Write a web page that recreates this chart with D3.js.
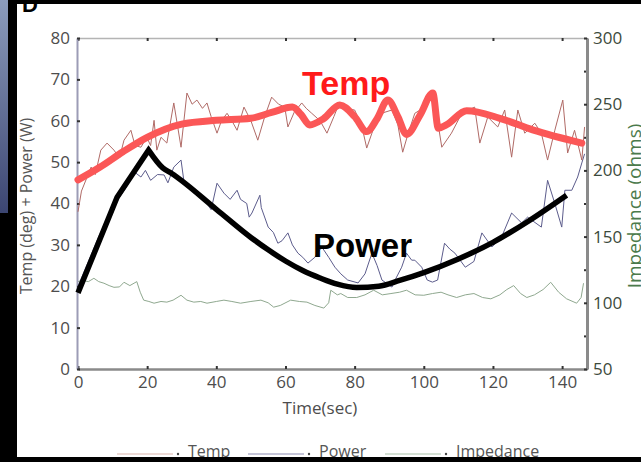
<!DOCTYPE html>
<html>
<head>
<meta charset="utf-8">
<script src="https://cdn.jsdelivr.net/npm/d3@7"></script>
<style>
  html, body { margin: 0; padding: 0; background: #000; }
  svg { display: block; }
  .tick text { font-family: "Open Sans", sans-serif; font-size: 17px; }
</style>
</head>
<body>
<svg id="chart" width="641" height="462"></svg>
<script>
// axis ticks
const timeTicks = [0, 20, 40, 60, 80, 100, 120, 140];
const leftTicks = [0, 10, 20, 30, 40, 50, 60, 70, 80];
const rightTicks = [50, 100, 150, 200, 250, 300];
const rightMinor = [75, 125, 175, 225, 275];

// raw traces [time, value]
const tempRaw = [[0,38],[1,43],[3.8,48.8],[5,47],[6.6,52.9],[8.4,54.6],[10.4,52.9],[12,51],[13.3,55.3],[15.3,57.7],[16.5,54],[18.2,53.6],[19.9,56],[21,54],[22,60.1],[22.8,52.9],[24,56],[25.7,54.6],[27.7,64.3],[29.8,53.6],[31.5,66.7],[33,64],[34.4,65],[36,63],[37.3,64.3],[38.5,61],[40.2,57],[41.5,60],[43.1,61.8],[44.5,60],[46,57.7],[48,63.3],[50,60],[52,55.3],[54,61],[56,65.7],[58,64],[59.8,63.3],[60.7,58.5],[62.5,62],[64.7,64.3],[66,63],[67.6,61.8],[70,60],[72,57],[74,61],[75.1,63.3],[77,63],[80,62.6],[82,59],[83.5,53.4],[85,57],[86.7,60.9],[88.5,62],[90.8,62.6],[92.5,59],[93.9,52.4],[95.5,57],[97.4,61.8],[100.3,63.3],[103.2,66.7],[104,60],[105.2,53.6],[108,57],[111,61.8],[114.7,63.3],[116.2,54.6],[118.5,60.9],[121.4,58.5],[123.4,62.6],[125.4,51.2],[127.2,62.6],[129.2,57],[132.1,59.4],[134,57],[135.8,50.5],[137.9,57.7],[140.2,65],[141.6,52.2],[143.6,57.7],[145.7,50.5],[146.5,58.5]];

const powerRaw = [[0,20],[2,24],[4,28],[6,32],[8,35.5],[10,38.5],[12,41.5],[14,44],[15.3,46],[16.5,47.5],[18.2,46.4],[19.5,48],[21,45.6],[23,47],[24.9,46.9],[26,45],[27.7,48.8],[29.8,50.5],[30.6,45.6],[32,44],[33.5,42.5],[35.5,41.5],[37.3,40],[38.5,38.5],[40.2,44.9],[42.2,42.5],[44,41],[46,43.2],[47,41],[48.8,40],[49.5,36.7],[50.3,37.7],[52.6,42],[53,39],[55,34.3],[56.5,33],[57.8,30.4],[59,31],[60.7,32.9],[62,30],[63.6,28],[65,27],[66.5,25.6],[68.5,27],[70.5,29.5],[72.5,27],[74.3,24.6],[76,23],[78,21.5],[81,20.8],[83,23],[85,28],[86.5,25],[87.9,21.5],[90.8,19.8],[92,22],[93.6,24.6],[95,28],[96.5,26.3],[97.4,26.3],[99.4,24.6],[101,21.5],[102.5,21],[104,21.5],[106,30.4],[107.5,29],[109,28],[112,24.6],[114.5,26],[116.8,32.9],[119.7,29.5],[122.5,31.9],[125.4,37.7],[128.3,35.3],[130,36.7],[134,34.3],[135.8,45.6],[137.9,40],[139.9,34.3],[140.8,43.2],[142.8,43.2],[144.5,46.4],[145.7,49.8],[146.5,52]];

const impedanceRaw = [[0,116],[1,117],[3,116],[4.6,118.5],[6,116],[7.5,114.8],[9,113],[10.4,111.7],[12,112],[13.3,115.5],[15,113],[16.2,114.8],[17,116],[18,108],[19,102],[20.5,101],[22,99.7],[24,101],[25.7,100.5],[27.5,102],[29.8,105.7],[31.5,102],[33.5,100.5],[35.5,101],[37.3,99.7],[40,101],[42.2,102],[44.5,101],[47,99.7],[50,101],[52.9,102],[55,100],[56.6,96.7],[58.5,98],[61.5,102],[64,101],[66.2,100.5],[68.5,98],[71.1,96],[72.5,100],[73.1,109.5],[75,106],[76,107],[78,104],[80.6,104],[83,106],[85.5,109.5],[88,106],[90.5,107],[93,108],[95,109.5],[97.5,106],[100,105.7],[102.5,107],[105,108],[107,106],[109.5,104],[112,106],[114.5,107],[117,104],[119.4,103],[122,106],[124,110],[126,113],[128,107],[129.8,104],[132,106],[134.5,110],[136.7,115.5],[139,108],[141.3,103],[144.2,99.7],[145.5,104],[146.2,114.8]];

// hand-drawn fit lines
const tempFit = [[0,45.7],[6.4,48.8],[13,52.5],[20,56],[30,59.2],[40,60.1],[50,60.6],[56,62],[62,63.3],[64.5,61.5],[67,59],[71,60.5],[75.7,63.8],[80,61],[83.5,57.4],[86.5,60.5],[89.6,65],[92.5,61],[95,56.7],[99,61.5],[102.6,66.7],[104.2,58.2],[106.5,59],[112.4,62.4],[122,60.6],[131.5,57.8],[145.7,54.6]];
const powerRise = [[0,18.4],[11.3,41.5],[20.4,52.9]];
const powerFall = [[20.4,52.9],[24.5,48.6],[27,47.3],[40,38.6],[50,31.8],[55,28.8],[60,26.1],[65,23.8],[70,22],[75,20.5],[80.6,19.7],[87,20],[93,21.4],[100,23.3],[110,26.6],[120,30.6],[130,35.6],[141.3,42]];

const legendItems = ['Temp', 'Power', 'Impedance'];
const legendColors = ['#d9b3ab', '#8c8cb2', '#a9c2a9'];

const svg = d3.select('#chart');

// frame: black surround, blue strip, white page
const grad = svg.append('defs').append('linearGradient')
    .attr('id', 'strip').attr('x1', 0).attr('y1', 0).attr('x2', 0).attr('y2', 1);
grad.append('stop').attr('offset', '0%').attr('stop-color', '#8c9cbc');
grad.append('stop').attr('offset', '100%').attr('stop-color', '#3c4672');
svg.append('rect').attr('width', 641).attr('height', 462).attr('fill', '#000');
svg.append('rect').attr('x', 0).attr('y', 0).attr('width', 8).attr('height', 213).attr('fill', 'url(#strip)');
svg.append('rect').attr('x', 17).attr('y', 4).attr('width', 624).attr('height', 453).attr('fill', '#fff');

svg.append('text').attr('x', 22).attr('y', 12)
    .style('font-family', '"Liberation Sans", Arial, sans-serif')
    .style('font-weight', 'bold').style('font-size', '22px')
    .text('D');

const x = d3.scaleLinear().domain([0, 147.2]).range([78, 587]);
const yL = d3.scaleLinear().domain([0, 80]).range([369, 38]);
const yR = d3.scaleLinear().domain([50, 300]).range([369, 38]);

// axes
const styleAxis = (g, color, width, labelColor) => {
    g.select('.domain').attr('stroke', color).attr('stroke-width', width);
    g.selectAll('.tick line').attr('stroke', '#333').attr('stroke-width', 2);
    g.selectAll('.tick text').attr('fill', labelColor);
};

svg.append('g').attr('transform', 'translate(0,38)')
    .call(d3.axisTop(x).tickValues(timeTicks).tickFormat('').tickSize(-3).tickSizeOuter(0))
    .call((g) => styleAxis(g, '#b4b4b4', 1.5, '#555'));

svg.append('g').attr('transform', 'translate(0,369)')
    .call(d3.axisBottom(x).tickValues(timeTicks).tickSize(-3).tickSizeOuter(0).tickPadding(7))
    .call((g) => styleAxis(g, '#8a8a8a', 2.5, '#4d4d4d'));

svg.append('g').attr('transform', 'translate(77,0)')
    .call(d3.axisLeft(yL).tickValues(leftTicks).tickSize(-3).tickSizeOuter(0).tickPadding(7))
    .call((g) => styleAxis(g, '#9c9cb6', 2, '#4d4d4d'));

svg.append('g').attr('transform', 'translate(587,0)')
    .call(d3.axisRight(yR).tickValues(rightMinor).tickFormat('').tickSize(-3).tickSizeOuter(0))
    .call((g) => g.selectAll('.tick line').attr('stroke', '#333').attr('stroke-width', 2));
svg.append('g').attr('transform', 'translate(587,0)')
    .call(d3.axisRight(yR).tickValues(rightTicks).tickSize(-3).tickSizeOuter(0).tickPadding(6))
    .call((g) => styleAxis(g, '#8a8a8a', 3, '#3c4a3c'));

// axis titles
const label = (sel) => sel.style('font-family', '"Open Sans", sans-serif');
svg.append('text').call(label)
    .attr('transform', 'translate(32,206) rotate(-90)')
    .attr('text-anchor', 'middle').style('font-size', '16px').attr('fill', '#555')
    .text('Temp (deg) + Power (W)');
svg.append('text').call(label)
    .attr('transform', 'translate(641,206) rotate(-90)')
    .attr('text-anchor', 'middle').style('font-size', '19px').attr('fill', '#4b7a4b')
    .text('Impedance (ohms)');
svg.append('text').call(label)
    .attr('x', 320).attr('y', 414).attr('text-anchor', 'middle')
    .style('font-size', '17px').attr('fill', '#4d4d4d')
    .text('Time(sec)');

// traces
const lineL = d3.line().x((d) => x(d[0])).y((d) => yL(d[1]));
const lineR = d3.line().x((d) => x(d[0])).y((d) => yR(d[1]));
const fitLine = d3.line().x((d) => x(d[0])).y((d) => yL(d[1])).curve(d3.curveMonotoneX);

const plot = svg.append('g').attr('fill', 'none');
plot.append('path').attr('d', lineR(impedanceRaw)).attr('stroke', '#8fa88f').attr('stroke-width', 1);
plot.append('path').attr('d', lineL(powerRaw)).attr('stroke', '#5c5c8c').attr('stroke-width', 1);
plot.append('path').attr('d', lineL(tempRaw)).attr('stroke', '#b06a66').attr('stroke-width', 1);
plot.append('path').attr('d', fitLine(tempFit)).attr('stroke', '#fb5757')
    .attr('stroke-width', 7).attr('stroke-linecap', 'round').attr('stroke-linejoin', 'round');
// straight climb, smooth decay
plot.append('path').attr('d', lineL(powerRise) + fitLine(powerFall).replace(/^M[^CL]*/, ''))
    .attr('stroke', '#000').attr('stroke-width', 5.5).attr('stroke-linejoin', 'miter');

// annotations
svg.append('text').attr('x', 302).attr('y', 95)
    .style('font-family', '"Liberation Sans", Arial, sans-serif')
    .style('font-weight', 'bold').style('font-size', '34px')
    .attr('fill', '#ff1a1a').text('Temp');
svg.append('text').attr('x', 313).attr('y', 257)
    .style('font-family', '"Liberation Sans", Arial, sans-serif')
    .style('font-weight', 'bold').style('font-size', '33px')
    .attr('fill', '#000').text('Power');

// legend
const legendX = [117, 248, 385];
const legend = svg.append('g');
legendItems.forEach((name, i) => {
    const lx = legendX[i];
    legend.append('line').attr('x1', lx).attr('x2', lx + 56).attr('y1', 454).attr('y2', 454)
        .attr('stroke', legendColors[i]).attr('stroke-width', 1.2);
    legend.append('circle').attr('cx', lx + 61).attr('cy', 454).attr('r', 1.2).attr('fill', '#444');
    legend.append('text').call(label).attr('x', lx + 71).attr('y', 457)
        .style('font-size', '16px').attr('fill', '#555').text(name);
});

svg.append('rect').attr('x', 0).attr('y', 457).attr('width', 641).attr('height', 5).attr('fill', '#000');
svg.append('rect').attr('x', 8).attr('y', 0).attr('width', 9).attr('height', 462).attr('fill', '#000');
</script>
</body>
</html>
